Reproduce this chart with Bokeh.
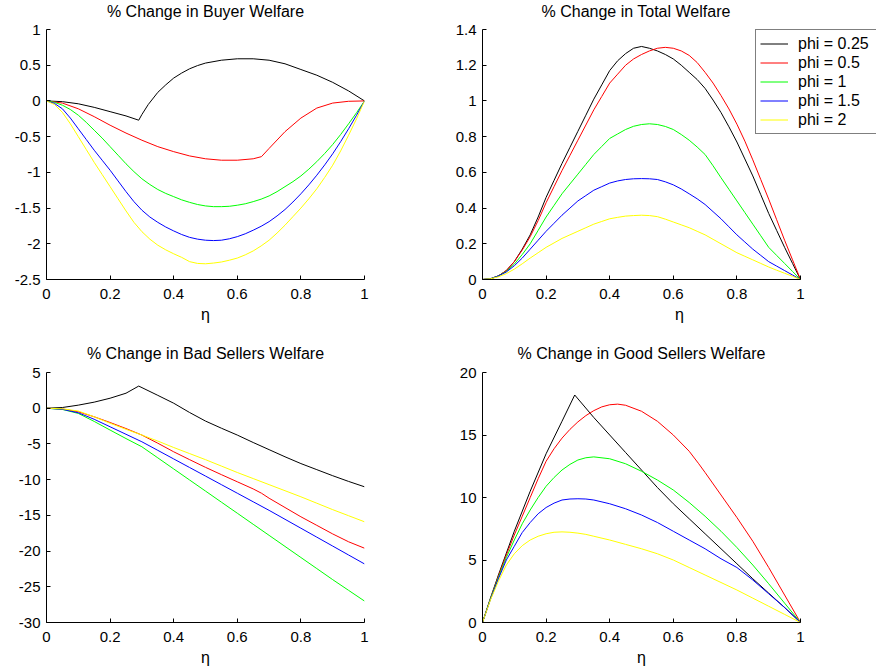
from bokeh.plotting import figure
from bokeh.models import Range1d, FixedTicker, Legend, LegendItem, Title
from bokeh.layouts import column, row
from bokeh.embed import file_html
from bokeh.resources import INLINE

# ---------------- data ----------------
phi_labels = ["phi = 0.25", "phi = 0.5", "phi = 1", "phi = 1.5", "phi = 2"]
colors = ["#000000", "#ff0000", "#00ff00", "#0000ff", "#ffff00"]

eta = [0.0, 0.025, 0.05, 0.075, 0.1, 0.125, 0.15, 0.175, 0.2, 0.225, 0.25, 0.275, 0.3, 0.325,
       0.35, 0.375, 0.4, 0.425, 0.45, 0.475, 0.5, 0.525, 0.55, 0.575, 0.6, 0.625, 0.65, 0.675,
       0.7, 0.725, 0.75, 0.775, 0.8, 0.825, 0.85, 0.875, 0.9, 0.925, 0.95, 0.975, 1.0]

# Buyer welfare
buyer_x_025 = [0.0, 0.05, 0.1, 0.15, 0.2, 0.25, 0.29, 0.3, 0.32, 0.35, 0.375, 0.4, 0.425, 0.45,
               0.475, 0.5, 0.55, 0.6, 0.65, 0.7, 0.75, 0.8, 0.85, 0.9, 0.95, 1.0]
buyer_025 = [0.0, -0.01, -0.04, -0.09, -0.15, -0.21, -0.27, -0.19, -0.05, 0.12, 0.225, 0.32, 0.39, 0.45,
             0.495, 0.53, 0.57, 0.59, 0.59, 0.57, 0.52, 0.44, 0.36, 0.26, 0.14, 0.0]
buyer_x_05 = [0.0, 0.05, 0.1, 0.15, 0.2, 0.25, 0.3, 0.35, 0.4, 0.45, 0.5, 0.55, 0.6, 0.65,
              0.676, 0.7, 0.75, 0.8, 0.85, 0.9, 0.95, 1.0]
buyer_05 = [0.0, -0.03, -0.11, -0.22, -0.34, -0.45, -0.55, -0.64, -0.71, -0.77, -0.81, -0.83,
            -0.83, -0.81, -0.78, -0.665, -0.43, -0.24, -0.10, -0.03, -0.005, 0.0]
buyer_1 = [0.0, -0.02, -0.06, -0.12, -0.2, -0.30, -0.41, -0.52, -0.64, -0.76, -0.88, -0.99, -1.09,
           -1.17, -1.24, -1.295, -1.34, -1.385, -1.42, -1.45, -1.47, -1.48, -1.48, -1.475, -1.46,
           -1.44, -1.41, -1.375, -1.33, -1.27, -1.20, -1.13, -1.05, -0.955, -0.85, -0.735, -0.61,
           -0.47, -0.32, -0.165, 0.0]
buyer_15 = [0.0, -0.035, -0.11, -0.24, -0.39, -0.54, -0.69, -0.83, -0.97, -1.12, -1.27, -1.41, -1.53,
            -1.625, -1.70, -1.765, -1.82, -1.87, -1.91, -1.935, -1.95, -1.955, -1.95, -1.93, -1.90,
            -1.86, -1.81, -1.755, -1.69, -1.61, -1.52, -1.415, -1.30, -1.175, -1.04, -0.895, -0.74,
            -0.57, -0.39, -0.20, 0.0]
buyer_2 = [0.0, -0.05, -0.16, -0.32, -0.50, -0.68, -0.86, -1.03, -1.20, -1.37, -1.54, -1.70, -1.83,
           -1.935, -2.02, -2.085, -2.14, -2.19, -2.25, -2.275, -2.28, -2.27, -2.255, -2.23, -2.20,
           -2.155, -2.10, -2.03, -1.95, -1.85, -1.74, -1.62, -1.50, -1.37, -1.23, -1.07, -0.90,
           -0.70, -0.48, -0.25, 0.0]

# Total welfare
total_025 = [0.0, 0.004, 0.02, 0.05, 0.10, 0.17, 0.25, 0.35, 0.46, 0.555, 0.65, 0.74, 0.83, 0.92,
             1.01, 1.09, 1.17, 1.225, 1.265, 1.295, 1.305, 1.295, 1.28, 1.26, 1.235, 1.20, 1.16,
             1.12, 1.07, 1.005, 0.935, 0.855, 0.77, 0.675, 0.58, 0.475, 0.37, 0.275, 0.18, 0.09, 0.0]
total_05 = [0.0, 0.004, 0.02, 0.05, 0.10, 0.165, 0.24, 0.33, 0.43, 0.52, 0.61, 0.695, 0.78, 0.865,
            0.95, 1.025, 1.10, 1.15, 1.20, 1.235, 1.26, 1.28, 1.295, 1.30, 1.295, 1.28, 1.255,
            1.215, 1.16, 1.10, 1.03, 0.955, 0.87, 0.775, 0.67, 0.56, 0.45, 0.335, 0.22, 0.11, 0.0]
total_1 = [0.0, 0.004, 0.02, 0.045, 0.086, 0.14, 0.20, 0.275, 0.35, 0.415, 0.48, 0.535, 0.59, 0.645,
           0.70, 0.745, 0.79, 0.815, 0.84, 0.858, 0.868, 0.872, 0.868, 0.857, 0.84, 0.812, 0.78,
           0.742, 0.70, 0.637, 0.57, 0.505, 0.44, 0.375, 0.31, 0.245, 0.18, 0.135, 0.09, 0.045, 0.0]
total_15 = [0.0, 0.004, 0.02, 0.042, 0.077, 0.12, 0.17, 0.22, 0.27, 0.315, 0.36, 0.40, 0.44, 0.47,
            0.50, 0.52, 0.54, 0.552, 0.56, 0.564, 0.565, 0.564, 0.56, 0.547, 0.53, 0.507, 0.48,
            0.452, 0.42, 0.38, 0.34, 0.295, 0.25, 0.21, 0.17, 0.135, 0.10, 0.075, 0.05, 0.025, 0.0]
total_2 = [0.0, 0.004, 0.015, 0.033, 0.058, 0.088, 0.12, 0.15, 0.18, 0.205, 0.23, 0.25, 0.27, 0.29,
           0.31, 0.325, 0.34, 0.348, 0.355, 0.358, 0.36, 0.358, 0.352, 0.338, 0.322, 0.306, 0.29,
           0.27, 0.25, 0.225, 0.20, 0.175, 0.15, 0.13, 0.11, 0.09, 0.07, 0.052, 0.035, 0.018, 0.0]

# Bad sellers welfare
bad_x = [0.0, 0.05, 0.1, 0.15, 0.2, 0.25, 0.3, 0.35, 0.4, 0.45, 0.5,
         0.55, 0.6, 0.65, 0.7, 0.75, 0.8, 0.85, 0.9, 0.95, 1.0]
bad_x_025 = [0.0, 0.05, 0.1, 0.15, 0.2, 0.25, 0.29, 0.35, 0.4, 0.45, 0.5,
             0.55, 0.6, 0.65, 0.7, 0.75, 0.8, 0.85, 0.9, 0.95, 1.0]
bad_025 = [0.0, 0.1, 0.43, 0.85, 1.4, 2.1, 3.1, 1.8, 0.7, -0.6, -1.8,
           -2.8, -3.76, -4.8, -5.8, -6.8, -7.75, -8.6, -9.45, -10.25, -11.0]
bad_x_05 = [0.0, 0.05, 0.1, 0.15, 0.2, 0.25, 0.3, 0.35, 0.4, 0.45, 0.5, 0.55, 0.6, 0.65,
            0.676, 0.7, 0.75, 0.8, 0.85, 0.9, 0.95, 1.0]
bad_05 = [0.0, -0.1, -0.5, -1.2, -2.0, -2.85, -3.76, -4.9, -6.1, -7.2, -8.28, -9.3, -10.3, -11.3,
          -11.9, -12.6, -13.9, -15.2, -16.4, -17.6, -18.7, -19.6]
bad_1 = [0.0, -0.17, -0.73, -1.85, -3.06, -4.25, -5.4, -6.95, -8.5, -10.05, -11.6,
         -13.15, -14.7, -16.25, -17.8, -19.35, -20.9, -22.45, -24.0, -25.5, -27.0]
bad_15 = [0.0, -0.15, -0.64, -1.55, -2.6, -3.65, -4.7, -5.9, -7.1, -8.3, -9.5,
          -10.7, -11.9, -13.1, -14.3, -15.55, -16.8, -18.05, -19.3, -20.55, -21.8]
bad_2 = [0.0, -0.08, -0.4, -1.2, -2.1, -2.95, -3.76, -4.6, -5.5, -6.35, -7.2,
         -8.1, -9.0, -9.85, -10.7, -11.55, -12.4, -13.3, -14.2, -15.05, -15.9]

# Good sellers welfare
good_x_025 = [0.0, 0.025, 0.05, 0.1, 0.15, 0.2, 0.25, 0.29, 0.35, 0.4, 0.45, 0.5,
              0.55, 0.6, 0.65, 0.7, 0.75, 0.8, 0.85, 0.9, 0.95, 1.0]
good_025 = [0.0, 1.95, 3.8, 7.3, 10.5, 13.5, 16.1, 18.2, 16.4, 15.0, 13.6, 12.2,
            10.8, 9.5, 8.3, 7.1, 5.9, 4.7, 3.5, 2.35, 1.2, 0.0]
good_x_05 = [0.0, 0.025, 0.05, 0.075, 0.1, 0.125, 0.15, 0.175, 0.2, 0.225, 0.25, 0.275, 0.3,
             0.325, 0.35, 0.375, 0.4, 0.425, 0.45, 0.5, 0.55, 0.6, 0.65, 0.68, 0.7, 0.75, 0.8,
             0.85, 0.9, 0.95, 1.0]
good_05 = [0.0, 1.9, 3.7, 5.4, 7.0, 8.5, 10.0, 11.5, 12.9, 13.9, 14.75, 15.45, 16.05, 16.55,
           16.95, 17.25, 17.42, 17.47, 17.38, 16.9, 16.1, 15.0, 13.7, 12.7, 12.0, 10.2, 8.4,
           6.5, 4.4, 2.2, 0.0]
good_x = [0.0, 0.025, 0.05, 0.075, 0.1, 0.125, 0.15, 0.175, 0.2, 0.225, 0.25, 0.275, 0.3, 0.325,
          0.35, 0.4, 0.45, 0.5, 0.55, 0.6, 0.65, 0.7, 0.75, 0.8, 0.85, 0.9, 0.95, 1.0]
good_1 = [0.0, 1.9, 3.6, 5.2, 6.6, 7.9, 9.0, 10.0, 10.9, 11.6, 12.2, 12.65, 13.0, 13.18,
          13.25, 13.1, 12.7, 12.1, 11.4, 10.6, 9.6, 8.5, 7.3, 6.0, 4.6, 3.1, 1.55, 0.0]
good_15 = [0.0, 1.85, 3.5, 5.0, 6.1, 7.2, 8.0, 8.7, 9.2, 9.55, 9.8, 9.88, 9.9, 9.88,
           9.8, 9.5, 9.1, 8.6, 8.0, 7.3, 6.6, 5.9, 5.1, 4.4, 3.4, 2.3, 1.2, 0.0]
good_2 = [0.0, 1.8, 3.3, 4.6, 5.5, 6.15, 6.6, 6.9, 7.1, 7.22, 7.25, 7.22, 7.15, 7.05,
          6.9, 6.6, 6.25, 5.9, 5.5, 5.0, 4.4, 3.8, 3.2, 2.6, 1.95, 1.3, 0.65, 0.0]

# ticks
x_ticks = [0, 0.2, 0.4, 0.6, 0.8, 1]
x_tick_labels = ["0", "0.2", "0.4", "0.6", "0.8", "1"]
buyer_ticks = [-2.5, -2, -1.5, -1, -0.5, 0, 0.5, 1]
buyer_tick_labels = ["-2.5", "-2", "-1.5", "-1", "-0.5", "0", "0.5", "1"]
total_ticks = [0, 0.2, 0.4, 0.6, 0.8, 1, 1.2, 1.4]
total_tick_labels = ["0", "0.2", "0.4", "0.6", "0.8", "1", "1.2", "1.4"]
bad_ticks = [-30, -25, -20, -15, -10, -5, 0, 5]
bad_tick_labels = ["-30", "-25", "-20", "-15", "-10", "-5", "0", "5"]
good_ticks = [0, 5, 10, 15, 20]
good_tick_labels = ["0", "5", "10", "15", "20"]

titles = ["% Change in Buyer Welfare", "% Change in Total Welfare",
          "% Change in Bad Sellers Welfare", "% Change in Good Sellers Welfare"]

FONT = "Liberation Sans"
FRAME_W = 318


def make_fig(title, yr, yticks, ylabels, width, height, bl, br, bt, bb, tstand, x_end=1.0,
             spacer=None):
    p = figure(width=width, height=height, output_backend="svg", toolbar_location=None,
               x_range=Range1d(0, x_end), y_range=Range1d(*yr),
               min_border_left=bl, min_border_right=br, min_border_top=bt,
               min_border_bottom=bb)
    if spacer is not None:
        # invisible gap between the frame and the title
        p.add_layout(Title(text=" ", text_font_size="1px", standoff=spacer), "above")
    p.title.text = title
    p.title.text_font = FONT
    p.title.text_font_size = "16px"
    p.title.text_font_style = "normal"
    p.title.text_color = "black"
    p.title.align = "center"
    p.title.vertical_align = "bottom"
    p.title.standoff = tstand
    p.outline_line_color = None
    p.xgrid.visible = False
    p.ygrid.visible = False
    for ax in (p.xaxis[0], p.yaxis[0]):
        ax.major_tick_in = 4
        ax.major_tick_out = 0
        ax.minor_tick_in = 0
        ax.minor_tick_out = 0
        ax.axis_line_color = "black"
        ax.major_tick_line_color = "black"
        ax.major_label_text_font = FONT
        ax.major_label_text_font_size = "15px"
        ax.major_label_text_color = "black"
    p.yaxis.major_label_standoff = 6
    p.xaxis.major_label_standoff = 9
    p.xaxis.ticker = FixedTicker(ticks=x_ticks)
    p.xaxis.major_label_overrides = dict(zip(x_ticks, x_tick_labels))
    p.xaxis.bounds = (0, 1)
    p.yaxis.ticker = FixedTicker(ticks=yticks)
    p.yaxis.major_label_overrides = dict(zip(yticks, ylabels))
    p.xaxis.axis_label = "η"
    p.xaxis.axis_label_text_font = FONT
    p.xaxis.axis_label_text_font_size = "16px"
    p.xaxis.axis_label_text_font_style = "normal"
    p.xaxis.axis_label_text_color = "black"
    p.xaxis.axis_label_standoff = 4
    return p


def add_lines(p, xs_list, ys_list):
    rs = []
    for xs, ys, c in zip(xs_list, ys_list, colors):
        rs.append(p.line(xs, ys, line_color=c, line_width=1))
    return rs


TOP_H = 328
BOT_H = 343

p1 = make_fig(titles[0], (-2.5, 1), buyer_ticks, buyer_tick_labels, 440, TOP_H, 46, 76, 29, 49, 0,
              spacer=7)
add_lines(p1, [buyer_x_025, buyer_x_05, eta, eta, eta],
          [buyer_025, buyer_05, buyer_1, buyer_15, buyer_2])

# top-right frame is widened to the page edge so that the legend can overhang x = 1
p2 = make_fig(titles[1], (0, 1.4), total_ticks, total_tick_labels, 436, TOP_H, 42, 0, 29, 49, 0,
              x_end=1.0 + 76 / FRAME_W, spacer=7)
p2.title.align = "left"
p2.title.offset = 59
r2 = add_lines(p2, [eta] * 5, [total_025, total_05, total_1, total_15, total_2])
legend = Legend(items=[LegendItem(label=l, renderers=[r]) for l, r in zip(phi_labels, r2)],
                location=(273, 145))
legend.label_text_font = FONT
legend.label_text_font_size = "16px"
legend.label_text_color = "black"
legend.label_height = 19
legend.glyph_height = 19
legend.glyph_width = 28
legend.label_width = 74
legend.label_standoff = 10
legend.spacing = 0
legend.padding = 4
legend.margin = 0
legend.border_line_color = "black"
legend.border_line_width = 1.5
legend.background_fill_color = "white"
legend.background_fill_alpha = 1.0
p2.add_layout(legend)

p3 = make_fig(titles[2], (-30, 5), bad_ticks, bad_tick_labels, 440, BOT_H, 46, 76, 44, 49, 22)
add_lines(p3, [bad_x_025, bad_x_05, bad_x, bad_x, bad_x], [bad_025, bad_05, bad_1, bad_15, bad_2])

p4 = make_fig(titles[3], (0, 20), good_ticks, good_tick_labels, 436, BOT_H, 42, 76, 44, 49, 22)
add_lines(p4, [good_x_025, good_x_05, good_x, good_x, good_x],
          [good_025, good_05, good_1, good_15, good_2])

layout = column(row(p1, p2), row(p3, p4))
open("out.html", "w").write(file_html(layout, INLINE))
